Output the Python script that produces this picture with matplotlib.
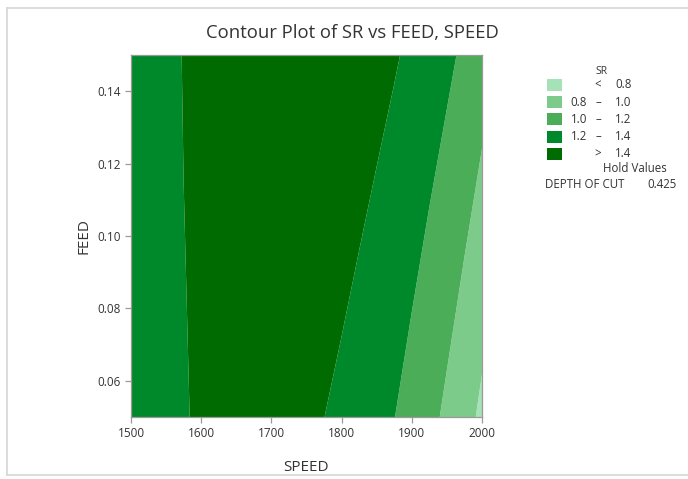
import numpy as np
import matplotlib
matplotlib.use("Agg")
import matplotlib.pyplot as plt
from matplotlib.lines import Line2D
from matplotlib.patches import Rectangle

# ---- data (estimated SR values) ----
speed = [1500, 1525, 1550, 1575, 1600, 1625, 1650, 1675, 1700, 1725, 1750,
         1775, 1800, 1825, 1850, 1875, 1900, 1925, 1950, 1975, 2000]
feed = [0.05, 0.15]
sr_feed_low = [1.244, 1.301, 1.349, 1.389, 1.421, 1.443, 1.458, 1.464, 1.461, 1.450, 1.430,
               1.401, 1.365, 1.319, 1.265, 1.203, 1.132, 1.052, 0.964, 0.868, 0.762]
sr_feed_high = [1.223, 1.292, 1.353, 1.406, 1.451, 1.487, 1.516, 1.537, 1.550, 1.555, 1.552,
                1.541, 1.522, 1.495, 1.460, 1.417, 1.366, 1.307, 1.241, 1.166, 1.083]
levels = [0.0, 0.8, 1.0, 1.2, 1.4, 2.0]
legend_labels = [("", "<", "0.8"), ("0.8", "\u2013", "1.0"), ("1.0", "\u2013", "1.2"),
                 ("1.2", "\u2013", "1.4"), ("", ">", "1.4")]
colors = ["#a6e2b7", "#7dcb8a", "#4bad57", "#00892b", "#006b00"]
x_ticks = [1500, 1600, 1700, 1800, 1900, 2000]
y_ticks = [0.06, 0.08, 0.10, 0.12, 0.14]
hold_name = "DEPTH OF CUT"
hold_value = "0.425"

W, H = 688, 479
plt.rcParams['font.family'] = ['Open Sans', 'DejaVu Sans']
fig = plt.figure(figsize=(W / 100, H / 100), dpi=100)

def fx(px):
    return px / W

def fy(py):
    return 1 - py / H

# screenshot frame
for (x0, y0, x1, y1) in [(7, 8, W, 8), (7, 8, 7, 475), (7, 475, W, 475)]:
    fig.add_artist(Line2D([fx(x0), fx(x1)], [fy(y0), fy(y1)], color="#d6d6d6", lw=1.2,
                          transform=fig.transFigure))

ax = fig.add_axes([fx(131), fy(417), fx(482) - fx(131), fy(55) - fy(417)])
S, F = np.meshgrid(speed, feed)
Z = np.array([sr_feed_low, sr_feed_high])
ax.contourf(S, F, Z, levels=levels, colors=colors, antialiased=True)
ax.set_xlim(1500, 2000)
ax.set_ylim(0.05, 0.15)
ax.set_xticks(x_ticks)
ax.set_xticklabels([str(v) for v in x_ticks])
ax.set_yticks(y_ticks)
ax.set_yticklabels([f"{v:.2f}" for v in y_ticks])
for sp in ax.spines.values():
    sp.set_color("#9a9a9a")
    sp.set_linewidth(0.9)
ax.tick_params(colors="#9a9a9a", labelcolor="#333333", labelsize=8.5, length=4, width=0.9)
ax.set_xlabel("SPEED", fontsize=11, color="#333333", labelpad=14)
ax.set_ylabel("FEED", fontsize=11, color="#333333", labelpad=4)

fig.text(fx(352), fy(33), "Contour Plot of SR vs FEED, SPEED", fontsize=13.3,
         color="#333333", ha="center", va="center")

# legend
fig.text(fx(602), fy(72), "SR", fontsize=7.5, color="#333333", ha="center", va="center")
for i, (lo, sym, hi) in enumerate(legend_labels):
    yc = 85 + 17.2 * i
    fig.add_artist(Rectangle((fx(547), fy(yc + 6)), fx(15), 12 / H, facecolor=colors[i],
                             edgecolor="none", transform=fig.transFigure))
    if lo:
        fig.text(fx(587), fy(yc), lo, fontsize=8.3, color="#333333", ha="right", va="center")
    fig.text(fx(598), fy(yc), sym, fontsize=8.3, color="#333333", ha="center", va="center")
    fig.text(fx(615), fy(yc), hi, fontsize=8.3, color="#333333", ha="left", va="center")
fig.text(fx(635), fy(168), "Hold Values", fontsize=8.3, color="#333333", ha="center", va="center")
fig.text(fx(545), fy(185), hold_name, fontsize=8.3, color="#333333", ha="left", va="center")
fig.text(fx(677), fy(185), hold_value, fontsize=8.3, color="#333333", ha="right", va="center")

fig.savefig("out.png", dpi=100)
